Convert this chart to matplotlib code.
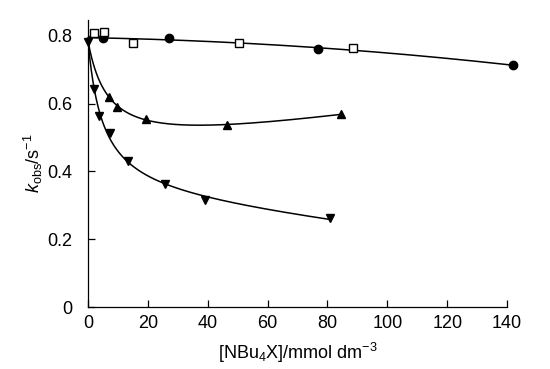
import numpy as np
import matplotlib.pyplot as plt

plt.rcParams['font.family'] = ['Liberation Sans', 'DejaVu Sans']
plt.rcParams['mathtext.fontset'] = 'custom'
plt.rcParams['mathtext.rm'] = 'Liberation Sans'
plt.rcParams['mathtext.it'] = 'Liberation Sans:italic'

# values
circ_x = [4.9, 27.1, 76.8, 142.0]
circ_y = [0.794, 0.793, 0.762, 0.714]

sq_x = [2.0, 5.3, 14.9, 50.5, 88.5]
sq_y = [0.809, 0.812, 0.779, 0.779, 0.765]

up_x = [7.1, 9.6, 19.4, 46.3, 84.4]
up_y = [0.621, 0.590, 0.556, 0.536, 0.569]

dn_x = [0.0, 2.0, 3.8, 7.4, 13.5, 25.7, 39.1, 80.9]
dn_y = [0.782, 0.644, 0.563, 0.512, 0.431, 0.363, 0.316, 0.262]

k0 = 0.785  # common starting value at zero salt


def fit_curve(x, y, xmax):
    # least squares on [1, x, 1/(1+x/t)] with t scanned, through (0, k0)
    x = np.append(np.asarray(x, float), 0.0)
    y = np.append(np.asarray(y, float), k0)
    best = None
    for t in np.linspace(0.5, 40, 400):
        A = np.column_stack([np.ones_like(x), x, 1 / (1 + x / t)])
        w = np.ones_like(x)
        w[-1] = 20.0
        coef, *_ = np.linalg.lstsq(A * w[:, None], y * w, rcond=None)
        res = np.sum((A @ coef - y) ** 2)
        if best is None or res < best[0]:
            best = (res, t, coef)
    _, t, coef = best
    xs = np.linspace(0, xmax, 300)
    ys = coef[0] + coef[1] * xs + coef[2] / (1 + xs / t)
    return xs, ys


fig = plt.figure(figsize=(5.5, 3.69), dpi=100)
ax = fig.add_axes([0.16, 0.168, 0.762, 0.778])

# fitted lines
cx = np.append(0.0, circ_x)
cy = np.append(0.792, circ_y)
p = np.polyfit(cx, cy, 2)
xs = np.linspace(0, max(circ_x), 200)
ax.plot(xs, np.polyval(p, xs), color='black', lw=1.1, clip_on=False)

xs, ys = fit_curve(up_x, up_y, max(up_x))
ax.plot(xs, ys, color='black', lw=1.1)
xs, ys = fit_curve(dn_x[1:], dn_y[1:], max(dn_x))
ax.plot(xs, ys, color='black', lw=1.1)

# data points
ax.plot(circ_x, circ_y, 'o', color='black', ms=6, clip_on=False)
ax.plot(sq_x, sq_y, 's', mfc='white', mec='black', mew=1, ms=5.5, clip_on=False)
ax.plot(up_x, up_y, '^', color='black', ms=6)
ax.plot(dn_x, dn_y, 'v', color='black', ms=6, clip_on=False)

ax.set_xlim(0, 140)
ax.set_ylim(0, 0.847)
ax.set_xticks(np.arange(0, 141, 20))
ax.set_yticks([0, 0.2, 0.4, 0.6, 0.8])
ax.set_yticklabels(['0', '0.2', '0.4', '0.6', '0.8'])
ax.tick_params(direction='in', length=5, width=0.9, labelsize=13)
ax.tick_params(axis='x', pad=6)
ax.tick_params(axis='y', pad=11)

ax.spines['top'].set_visible(False)
ax.spines['right'].set_visible(False)
ax.spines['left'].set_linewidth(0.9)
ax.spines['bottom'].set_linewidth(0.9)

ax.set_xlabel('[NBu$_4$X]/mmol dm$^{-3}$', fontsize=13, labelpad=6)
ax.set_ylabel('$k_{\\mathrm{obs}}$/s$^{-1}$', fontsize=13, labelpad=2)

fig.savefig('out.png', dpi=100)
